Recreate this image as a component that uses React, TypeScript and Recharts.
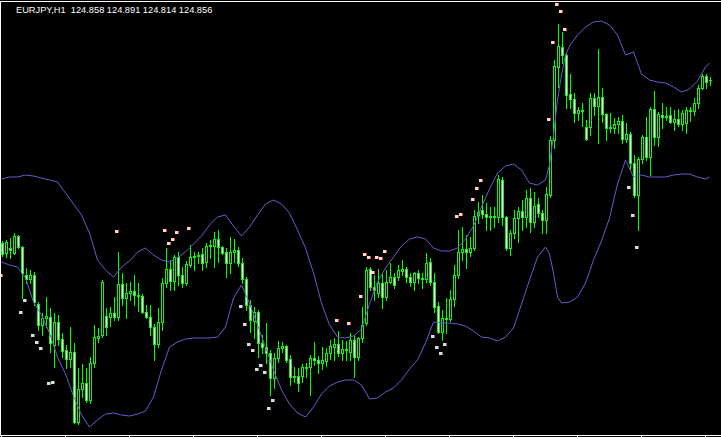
import React from 'react';
import { ComposedChart, Bar, Line, XAxis, YAxis } from 'recharts';

// EURJPY H1 candles (oldest first)
const openP = [
  123.23, 123.13, 123.18, 123.13, 123.30, 123.19, 122.91, 122.87, 122.91, 122.62,
  122.41, 122.48, 122.49, 122.21, 122.44, 122.27, 122.16, 122.07, 122.14, 121.44,
  121.77, 121.83, 121.66, 122.03, 122.28, 122.31, 122.50, 122.49, 122.53, 122.49,
  122.82, 122.68, 122.73, 122.75, 122.71, 122.70, 122.54, 122.49, 122.39, 122.22,
  122.44, 122.83, 122.97, 122.85, 123.09, 122.91, 122.83, 123.01, 123.09, 123.10,
  123.12, 123.04, 123.20, 123.20, 123.27, 123.19, 123.14, 123.03, 123.14, 123.16,
  123.03, 122.87, 122.61, 122.45, 122.54, 122.23, 122.19, 122.13, 121.88, 122.08,
  122.18, 122.20, 122.07, 121.90, 121.90, 121.90, 121.98, 121.99, 122.08, 122.06,
  122.03, 122.05, 122.13, 122.19, 122.22, 122.13, 122.16, 122.14, 122.26, 122.09,
  122.28, 122.43, 122.97, 122.79, 122.73, 122.83, 122.69, 122.84, 122.89, 122.89,
  122.95, 122.97, 122.89, 122.84, 122.93, 122.88, 122.87, 123.04, 122.84, 122.60,
  122.34, 122.47, 122.47, 122.67, 122.91, 123.14, 123.17, 123.14, 123.18, 123.51,
  123.56, 123.52, 123.50, 123.49, 123.49, 123.86, 123.49, 123.18, 123.33, 123.48,
  123.55, 123.49, 123.68, 123.44, 123.62, 123.53, 123.46, 123.71, 124.26, 124.99,
  125.19, 125.11, 124.72, 124.67, 124.53, 124.55, 124.39, 124.39, 124.68, 124.60,
  124.69, 124.52, 124.39, 124.38, 124.42, 124.45, 124.27, 124.32, 124.03, 123.71,
  124.07, 124.29, 124.09, 124.57, 124.29, 124.51, 124.49, 124.51, 124.44, 124.47,
  124.42, 124.43, 124.55, 124.55, 124.63, 124.78, 124.90, 124.858,
];

const highP = [
  123.25, 123.26, 123.28, 123.33, 123.31, 123.20, 122.98, 122.96, 122.94, 122.64,
  122.53, 122.69, 122.58, 122.53, 122.51, 122.33, 122.21, 122.39, 122.23, 121.98,
  122.02, 121.98, 122.09, 122.41, 122.38, 122.86, 122.58, 122.59, 122.69, 123.14,
  122.93, 122.83, 122.84, 122.91, 122.83, 122.72, 122.61, 122.61, 122.42, 122.58,
  122.88, 123.18, 123.06, 123.11, 123.14, 122.99, 123.05, 123.21, 123.14, 123.14,
  123.18, 123.23, 123.26, 123.34, 123.36, 123.20, 123.18, 123.29, 123.27, 123.19,
  123.08, 122.89, 122.66, 122.59, 122.56, 122.31, 122.43, 122.16, 122.13, 122.25,
  122.24, 122.21, 122.11, 121.99, 121.98, 122.02, 122.03, 122.11, 122.24, 122.10,
  122.19, 122.18, 122.26, 122.28, 122.35, 122.26, 122.25, 122.33, 122.31, 122.29,
  122.59, 122.99, 122.99, 122.91, 122.97, 122.93, 122.96, 123.03, 122.93, 123.01,
  123.06, 122.99, 122.93, 122.94, 122.96, 122.93, 123.13, 123.08, 122.93, 122.64,
  122.56, 122.68, 122.76, 123.01, 123.36, 123.39, 123.31, 123.29, 123.56, 123.64,
  123.71, 123.63, 123.59, 123.59, 123.91, 123.89, 123.50, 123.36, 123.56, 123.59,
  123.66, 123.76, 123.78, 123.74, 123.68, 123.56, 123.79, 124.30, 125.06, 125.42,
  125.34, 125.13, 124.92, 124.73, 124.59, 124.63, 124.46, 124.73, 124.73, 125.17,
  124.78, 124.53, 124.53, 124.48, 124.49, 124.51, 124.43, 124.34, 124.11, 124.09,
  124.31, 124.49, 124.59, 124.75, 124.54, 124.63, 124.59, 124.59, 124.56, 124.57,
  124.56, 124.59, 124.59, 124.68, 124.81, 124.92, 124.92, 124.891,
];

const lowP = [
  123.10, 123.09, 123.08, 123.12, 123.18, 122.68, 122.83, 122.83, 122.61, 122.36,
  122.31, 122.39, 122.14, 121.99, 122.21, 122.09, 121.98, 121.99, 121.43, 121.42,
  121.69, 121.64, 121.63, 121.99, 122.24, 122.29, 122.31, 122.40, 122.46, 122.46,
  122.61, 122.48, 122.66, 122.61, 122.55, 122.53, 122.48, 122.31, 122.06, 122.19,
  122.36, 122.79, 122.76, 122.76, 122.81, 122.79, 122.81, 122.99, 122.96, 123.03,
  122.96, 122.99, 123.08, 122.99, 123.04, 123.12, 122.89, 122.93, 123.04, 123.00,
  122.83, 122.56, 122.34, 122.28, 122.09, 122.13, 122.03, 121.71, 121.78, 122.04,
  122.14, 122.04, 121.81, 121.84, 121.75, 121.84, 121.89, 121.71, 122.01, 121.93,
  121.97, 122.00, 122.07, 122.06, 122.10, 122.06, 122.06, 122.06, 121.89, 122.06,
  122.24, 122.41, 122.76, 122.66, 122.69, 122.58, 122.66, 122.83, 122.78, 122.86,
  122.91, 122.84, 122.80, 122.76, 122.83, 122.78, 122.84, 122.81, 122.54, 122.33,
  122.26, 122.33, 122.45, 122.60, 122.88, 123.06, 122.98, 123.10, 123.16, 123.43,
  123.48, 123.36, 123.36, 123.39, 123.44, 123.41, 123.16, 123.11, 123.28, 123.24,
  123.36, 123.39, 123.34, 123.39, 123.49, 123.33, 123.33, 123.69, 124.18, 124.79,
  125.03, 124.58, 124.58, 124.44, 124.46, 124.40, 124.26, 124.31, 124.51, 124.23,
  124.44, 124.26, 124.34, 124.33, 124.33, 124.23, 124.24, 123.96, 123.69, 123.36,
  124.03, 124.06, 123.91, 124.21, 124.20, 124.38, 124.46, 124.43, 124.36, 124.40,
  124.36, 124.33, 124.45, 124.51, 124.58, 124.77, 124.78, 124.814,
];

const closeP = [
  123.12, 123.24, 123.16, 123.30, 123.19, 122.93, 122.87, 122.91, 122.64, 122.41,
  122.48, 122.50, 122.23, 122.44, 122.27, 122.15, 122.07, 122.14, 121.44, 121.77,
  121.83, 121.66, 122.03, 122.29, 122.30, 122.84, 122.39, 122.53, 122.49, 122.82,
  122.68, 122.73, 122.75, 122.71, 122.70, 122.54, 122.49, 122.39, 122.22, 122.44,
  122.83, 122.97, 122.85, 123.09, 122.91, 122.83, 123.02, 123.09, 123.10, 123.11,
  123.03, 123.20, 123.21, 123.27, 123.19, 123.13, 123.03, 123.14, 123.16, 123.03,
  122.87, 122.61, 122.46, 122.54, 122.23, 122.19, 122.13, 121.88, 122.08, 122.18,
  122.20, 122.06, 121.89, 121.89, 121.83, 121.99, 121.99, 122.08, 122.06, 122.03,
  122.06, 122.13, 122.20, 122.22, 122.13, 122.17, 122.17, 122.26, 122.09, 122.28,
  122.41, 122.96, 122.79, 122.76, 122.83, 122.69, 122.84, 122.89, 122.81, 122.96,
  122.97, 122.89, 122.84, 122.93, 122.88, 122.87, 123.03, 122.84, 122.59, 122.34,
  122.48, 122.48, 122.67, 122.91, 123.14, 123.17, 123.14, 123.18, 123.50, 123.54,
  123.52, 123.49, 123.49, 123.50, 123.87, 123.49, 123.18, 123.33, 123.48, 123.55,
  123.49, 123.68, 123.44, 123.60, 123.53, 123.46, 123.72, 124.26, 125.00, 125.20,
  125.11, 124.71, 124.67, 124.53, 124.56, 124.56, 124.27, 124.68, 124.60, 124.69,
  124.52, 124.38, 124.38, 124.42, 124.45, 124.27, 124.32, 124.03, 123.71, 124.07,
  124.29, 124.09, 124.57, 124.29, 124.52, 124.49, 124.50, 124.44, 124.47, 124.42,
  124.53, 124.56, 124.56, 124.63, 124.78, 124.90, 124.84, 124.856,
];

// Bollinger bands, [candle index, price]
const upperBand: [number, number][] = [
  [0, 123.87], [2, 123.89], [4, 123.89], [6, 123.91], [8, 123.90], [10, 123.88], [12, 123.86], [14, 123.84],
  [16, 123.73], [18, 123.62], [20, 123.51], [22, 123.33], [24, 123.06], [26, 122.96], [28, 122.89], [30, 122.99],
  [32, 123.05], [34, 123.14], [36, 123.18], [38, 123.11], [40, 123.06], [42, 123.04], [44, 123.08], [46, 123.14],
  [48, 123.22], [50, 123.30], [52, 123.41], [54, 123.49], [56, 123.51], [58, 123.40], [60, 123.30], [62, 123.39],
  [64, 123.51], [66, 123.62], [68, 123.66], [70, 123.62], [72, 123.53], [74, 123.36], [76, 123.18], [78, 122.93],
  [80, 122.63], [82, 122.41], [84, 122.29], [86, 122.28], [88, 122.30], [90, 122.37], [92, 122.62], [94, 122.84],
  [96, 122.98], [98, 123.09], [100, 123.20], [102, 123.27], [104, 123.29], [106, 123.27], [108, 123.18], [110, 123.15],
  [112, 123.15], [114, 123.18], [116, 123.27], [118, 123.40], [120, 123.59], [122, 123.77], [124, 123.93], [126, 124.00],
  [128, 124.02], [130, 123.96], [132, 123.83], [134, 123.81], [136, 123.86], [137, 124.01], [138, 124.31], [139, 124.66],
  [140, 124.91], [141, 125.11], [142, 125.20], [144, 125.31], [146, 125.39], [148, 125.44], [150, 125.45], [152, 125.41],
  [154, 125.31], [156, 125.11], [158, 125.14], [160, 124.92], [162, 124.86], [164, 124.84], [166, 124.83], [168, 124.79],
  [170, 124.74], [172, 124.77], [174, 124.85], [176, 124.99], [177, 125.03],
];

const lowerBand: [number, number][] = [
  [0, 123.04], [2, 123.01], [4, 122.99], [6, 122.88], [8, 122.64], [10, 122.51], [12, 122.33], [14, 122.09],
  [16, 121.92], [18, 121.70], [20, 121.51], [22, 121.39], [24, 121.46], [26, 121.52], [28, 121.53], [30, 121.51],
  [32, 121.50], [34, 121.52], [36, 121.55], [38, 121.69], [40, 121.96], [42, 122.19], [44, 122.24], [46, 122.27],
  [48, 122.28], [50, 122.28], [52, 122.28], [54, 122.29], [56, 122.39], [58, 122.68], [60, 122.81], [62, 122.63],
  [64, 122.41], [66, 122.19], [68, 121.96], [70, 121.76], [72, 121.62], [74, 121.53], [76, 121.49], [78, 121.59],
  [80, 121.72], [82, 121.80], [84, 121.84], [86, 121.86], [88, 121.86], [90, 121.81], [92, 121.67], [94, 121.68],
  [96, 121.74], [98, 121.78], [100, 121.86], [102, 121.97], [104, 122.06], [106, 122.23], [108, 122.44], [110, 122.43],
  [112, 122.43], [114, 122.42], [116, 122.40], [118, 122.35], [120, 122.29], [122, 122.28], [124, 122.25], [126, 122.29],
  [128, 122.38], [130, 122.62], [132, 122.86], [134, 123.09], [136, 123.19], [137, 123.12], [138, 122.93], [139, 122.69],
  [140, 122.63], [142, 122.64], [144, 122.69], [146, 122.83], [148, 123.06], [150, 123.25], [152, 123.48], [154, 123.82],
  [156, 124.06], [158, 123.89], [160, 123.91], [162, 123.89], [164, 123.89], [166, 123.89], [168, 123.91], [170, 123.92],
  [172, 123.92], [174, 123.89], [176, 123.87], [177, 123.89],
];

// signal markers
const pinkMarks: [number, number][] = [
  [0, 122.91], [29, 123.35], [41, 123.36], [42, 123.23], [43, 123.27], [44, 123.34], [47, 123.38],
  [84, 122.46], [87, 122.43], [90, 122.70], [91, 123.12], [92, 123.09], [93, 122.94], [94, 123.09],
  [95, 123.08], [96, 123.15], [114, 123.50], [115, 123.52], [118, 123.67], [119, 123.78], [120, 123.86],
  [137, 124.47], [138, 125.24], [139, 125.62], [140, 125.55], [141, 125.37],
];

const blueMarks: [number, number][] = [
  [5, 122.54], [6, 122.66], [8, 122.31], [9, 122.24], [10, 122.18], [12, 121.83], [13, 121.84],
  [60, 122.60], [61, 122.42], [62, 122.22], [63, 122.16], [64, 121.97], [65, 122.01], [66, 121.94],
  [67, 121.58], [68, 121.66], [108, 122.30], [109, 122.19], [110, 122.13], [111, 122.22],
  [157, 123.79], [158, 123.51], [159, 123.19],
];

const title = 'EURJPY,H1\u00a0\u00a0124.858 124.891 124.814 124.856';

const W = 721;
const H = 437;
const SLOTS = 180; // 178 bars plus the chart shift on the right
const LIME = '#00ff00';

const rows: any[] = Array.from({ length: SLOTS }, (_, i) => {
  const has = i < closeP.length;
  return {
    i,
    range: has ? [lowP[i], highP[i]] : null,
    o: has ? openP[i] : null,
    h: has ? highP[i] : null,
    l: has ? lowP[i] : null,
    c: has ? closeP[i] : null,
    up: null,
    lo: null,
    pk: null,
    bl: null,
  };
});
upperBand.forEach(([i, v]) => (rows[i].up = v));
lowerBand.forEach(([i, v]) => (rows[i].lo = v));
pinkMarks.forEach(([i, v]) => (rows[i].pk = v));
blueMarks.forEach(([i, v]) => (rows[i].bl = v));

// MT4 style candle: lime outline, white body when falling, black when rising
function Candle(props: any) {
  const { x, y, width, height, payload } = props;
  if (!payload || payload.range == null || y == null) return null;
  const { o, c, h, l } = payload;
  const col = Math.floor(x + width / 2);
  const k = h === l ? 0 : height / (h - l);
  const py = (v: number) => y + (h - v) * k;
  const top = Math.round(py(Math.max(o, c)));
  const bot = Math.round(py(Math.min(o, c)));
  const yH = Math.round(py(h));
  const yL = Math.round(py(l));
  const bear = c < o;
  return (
    <g shapeRendering="crispEdges">
      <rect x={col} y={yH} width={1} height={yL - yH + 1} fill={LIME} />
      <rect x={col - 1} y={top} width={3} height={Math.max(1, bot - top + 1)} fill={LIME} />
      {bot - top >= 2 && (
        <rect x={col} y={top + 1} width={1} height={bot - top - 1} fill={bear ? '#ffffff' : '#000000'} />
      )}
    </g>
  );
}

const marker = (light: string, edge: string) => (p: any) => {
  const key = `m-${light}-${p.index}`;
  if (p.value == null || p.cy == null || isNaN(p.cy)) return <g key={key} />;
  const x = Math.floor(p.cx) - 2;
  const y = Math.round(p.cy) - 1;
  return (
    <g key={key} shapeRendering="crispEdges">
      <rect x={x} y={y} width={3} height={3} fill={light} />
      <rect x={x + 3} y={y} width={1} height={3} fill={edge} />
    </g>
  );
};

export default function App() {
  return (
    <div style={{ position: 'relative', width: W, height: H, background: '#000', overflow: 'hidden' }}>
      <style>{`body{margin:0;background:#000;}`}</style>
      <ComposedChart
        width={W}
        height={H}
        data={rows}
        margin={{ top: 0, right: 1.5, bottom: 0, left: -0.5 }}
        barCategoryGap={0}
      >
        <XAxis dataKey="i" type="category" hide />
        <YAxis hide domain={[121.29, 125.66]} allowDataOverflow />
        <Bar dataKey="range" barSize={3} shape={<Candle />} isAnimationActive={false} />
        <Line dataKey="up" type="linear" stroke="#6a5acd" strokeWidth={1} dot={false} activeDot={false} connectNulls isAnimationActive={false} />
        <Line dataKey="lo" type="linear" stroke="#6a5acd" strokeWidth={1} dot={false} activeDot={false} connectNulls isAnimationActive={false} />
        <Line dataKey="pk" stroke="none" dot={marker('#ffd6d6', '#e0462e')} activeDot={false} isAnimationActive={false} />
        <Line dataKey="bl" stroke="none" dot={marker('#c4e4f8', '#a06a34')} activeDot={false} isAnimationActive={false} />
      </ComposedChart>
      <svg width={W} height={H} style={{ position: 'absolute', left: 0, top: 0, pointerEvents: 'none' }} shapeRendering="crispEdges">
        <rect x={0} y={1} width={W} height={1} fill="#ffffff" />
        <rect x={0} y={1} width={1} height={435} fill="#ffffff" />
        <rect x={0} y={435} width={W} height={1} fill="#ffffff" />
        {Array.from({ length: 12 }, (_, k) => (
          <rect key={k} x={1 + 64 * k} y={436} width={1} height={2} fill="#ffffff" />
        ))}
        <text x={16} y={12.5} fill="#ffffff" fontSize={9.25} fontFamily="'Liberation Sans', Arial, sans-serif" shapeRendering="auto">
          {title}
        </text>
      </svg>
    </div>
  );
}
